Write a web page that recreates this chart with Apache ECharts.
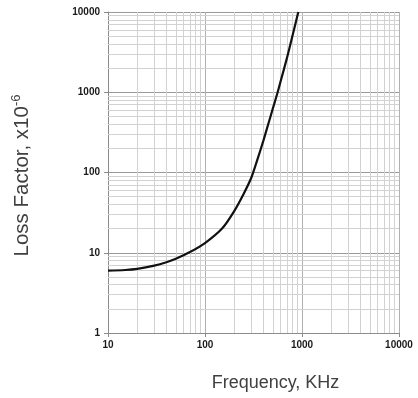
<!DOCTYPE html>
<html>
<head>
<meta charset="utf-8">
<script src="https://cdn.jsdelivr.net/npm/echarts@6/dist/echarts.min.js"></script>
<style>
  html, body { margin: 0; padding: 0; background: #fff; }
  #chart { width: 418px; height: 398px; }
</style>
</head>
<body>
<div id="chart"></div>
<script>
// frequency in kHz, loss factor in units of 1e-6
const freqKhz = [10, 15, 20, 30, 40, 50, 70, 100, 150, 200, 250, 300, 350, 400, 450, 500, 561, 600, 700, 800, 916];
const lossFactor = [6.0, 6.1, 6.3, 6.9, 7.6, 8.4, 10.2, 13.2, 20, 33, 54, 86, 150, 250, 405, 625, 1000, 1350, 2680, 5120, 10000];

// minor log grid lines (2..9 of each decade)
const xMinor = [20, 30, 40, 50, 60, 70, 80, 90, 200, 300, 400, 500, 600, 700, 800, 900, 2000, 3000, 4000, 5000, 6000, 7000, 8000, 9000];
const yMinor = [2, 3, 4, 5, 6, 7, 8, 9, 20, 30, 40, 50, 60, 70, 80, 90, 200, 300, 400, 500, 600, 700, 800, 900, 2000, 3000, 4000, 5000, 6000, 7000, 8000, 9000];

const chart = echarts.init(document.getElementById("chart"), null, { renderer: "canvas" });

const font = "'Liberation Sans', Arial, sans-serif";
const minorStyle = { color: "#d2d2d2", width: 1, type: "solid" };
const tickLabel = (v) => String(Math.round(v));

chart.setOption({
  animation: false,
  grid: { left: 108, right: 19, top: 12, bottom: 65 },
  xAxis: {
    type: "log",
    logBase: 10,
    min: 10,
    max: 10000,
    name: "Frequency, KHz",
    nameLocation: "middle",
    nameGap: 41,
    nameTextStyle: { fontFamily: font, fontSize: 18, color: "#404040", padding: [0, 0, 0, 44] },
    axisLine: { lineStyle: { color: "#8c8c8c", width: 1 } },
    axisTick: { show: true, length: 4, lineStyle: { color: "#8c8c8c" } },
    axisLabel: { fontFamily: font, fontSize: 10, fontWeight: "bold", color: "#1a1a1a", margin: 7, formatter: tickLabel },
    splitLine: { show: true, lineStyle: { color: "#b0b0b0", width: 1 } },
  },
  yAxis: {
    type: "log",
    logBase: 10,
    min: 1,
    max: 10000,
    name: "Loss Factor, x10{sup|-6}",
    nameLocation: "middle",
    nameGap: 74,
    nameRotate: 90,
    nameTextStyle: {
      fontFamily: font,
      fontSize: 20.5,
      color: "#404040",
      lineHeight: 24,
      padding: [0, 6, 0, 0],
      rich: {
        sup: { fontFamily: font, fontSize: 13, color: "#404040", verticalAlign: "top", lineHeight: 24, padding: [0, 0, 8, 0] },
      },
    },
    axisLine: { show: true, lineStyle: { color: "#8c8c8c", width: 1 } },
    axisTick: { show: true, length: 4, lineStyle: { color: "#8c8c8c" } },
    axisLabel: { fontFamily: font, fontSize: 10, fontWeight: "bold", color: "#1a1a1a", margin: 8, formatter: tickLabel },
    splitLine: { show: true, lineStyle: { color: "#999999", width: 1 } },
  },
  series: [
    {
      name: "grid",
      type: "line",
      data: [],
      silent: true,
      z: 1,
      markLine: {
        silent: true,
        symbol: ["none", "none"],
        label: { show: false },
        animation: false,
        lineStyle: minorStyle,
        emphasis: { disabled: true },
        data: [
          ...xMinor.map((v) => ({ xAxis: v })),
          ...yMinor.map((v) => ({ yAxis: v })),
        ],
      },
    },
    {
      name: "Loss Factor",
      type: "line",
      z: 5,
      data: freqKhz.map((f, i) => [f, lossFactor[i]]),
      showSymbol: false,
      smooth: 0.3,
      lineStyle: { color: "#111111", width: 2.2 },
    },
  ],
});
</script>
</body>
</html>
